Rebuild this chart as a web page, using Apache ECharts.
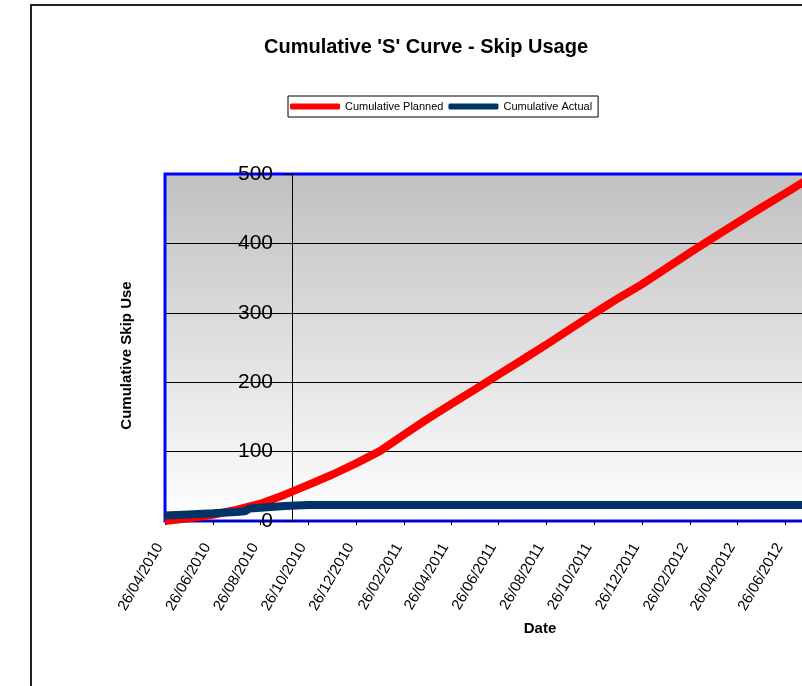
<!DOCTYPE html>
<html>
<head>
<meta charset="utf-8">
<script src="https://cdn.jsdelivr.net/npm/echarts@6/dist/echarts.min.js"></script>
<style>
  html, body { margin: 0; padding: 0; background: #fff; overflow: hidden; width: 802px; height: 686px; }
  /* the plot area runs past the right edge of the picture, so the chart is wider than the window */
  #main { width: 1000px; height: 686px; }
</style>
</head>
<body>
<div id="main"></div>
<script>
// tick labels on the date axis
var tickLabels = ['26/04/2010', '26/06/2010', '26/08/2010', '26/10/2010', '26/12/2010', '26/02/2011',
  '26/04/2011', '26/06/2011', '26/08/2011', '26/10/2011', '26/12/2011', '26/02/2012', '26/04/2012', '26/06/2012'];

// planned (red)
var plannedDates = ['26/04/2010', '26/05/2010', '26/06/2010', '26/07/2010', '26/08/2010', '26/09/2010',
  '26/10/2010', '26/11/2010', '26/12/2010', '26/01/2011', '26/02/2011', '26/03/2011', '26/04/2011',
  '26/05/2011', '26/06/2011', '26/07/2011', '26/08/2011', '26/09/2011', '26/10/2011', '26/11/2011',
  '26/12/2011', '26/01/2012', '26/02/2012', '26/03/2012', '26/04/2012', '26/05/2012', '26/06/2012', '26/07/2012'];
var plannedValues = [0, 4, 9, 16, 25, 38, 52, 67, 83, 101, 125, 146, 168, 189, 211, 232, 254, 277, 299, 321,
  341, 364, 387, 408, 430, 451, 472, 493];

// actual (dark blue)
var actualDates = ['26/04/2010', '26/05/2010', '26/06/2010', '26/07/2010', '06/08/2010', '12/08/2010',
  '26/08/2010', '26/09/2010', '26/10/2010', '26/07/2012'];
var actualValues = [8, 9.5, 11, 13, 14, 18, 19, 21.5, 23, 23];

var axisMin = '26/04/2010';
var axisMax = '09/12/2012';

function toTime(s) {
  var p = s.split('/');
  return Date.UTC(+p[2], +p[1] - 1, +p[0]);
}
function pad(n) { return n < 10 ? '0' + n : '' + n; }
function fmt(v) {
  var d = new Date(v);
  return pad(d.getUTCDate()) + '/' + pad(d.getUTCMonth() + 1) + '/' + d.getUTCFullYear();
}
function pairs(dates, vals) {
  return dates.map(function (d, i) { return [toTime(d), vals[i]]; });
}

var tickTimes = tickLabels.map(toTime);
var font = 'Liberation Sans, Arial, sans-serif';

var chart = echarts.init(document.getElementById('main'));
var option = {
  animation: false,
  textStyle: { fontFamily: font },
  graphic: [{
    type: 'rect',
    silent: true,
    z: -10,
    shape: { x: 31, y: 5, width: 1000, height: 1000 },
    style: { fill: 'none', stroke: '#222', lineWidth: 2 }
  }],
  title: {
    text: "Cumulative 'S' Curve - Skip Usage",
    left: 264,
    top: 37,
    padding: 0,
    textStyle: { fontSize: 20, fontWeight: 'bold', color: '#000', fontFamily: font }
  },
  legend: {
    left: 288,
    top: 96,
    padding: [5, 6, 5, 2],
    itemGap: 5,
    itemWidth: 50,
    itemHeight: 6,
    icon: 'roundRect',
    borderColor: '#000',
    borderWidth: 1,
    textStyle: { fontSize: 11, color: '#000', fontFamily: font },
    data: ['Cumulative Planned', 'Cumulative Actual']
  },
  grid: {
    left: 165,
    top: 174,
    right: 85,
    bottom: 165,
    show: true,
    borderColor: '#0000ff',
    borderWidth: 3,
    backgroundColor: new echarts.graphic.LinearGradient(0, 0, 0, 1, [
      { offset: 0, color: '#c0c0c0' },
      { offset: 1, color: '#ffffff' }
    ])
  },
  xAxis: {
    type: 'value',
    min: toTime(axisMin),
    max: toTime(axisMax),
    name: 'Date',
    nameLocation: 'middle',
    nameGap: 100,
    nameTextStyle: { fontSize: 15, fontWeight: 'bold', color: '#000', fontFamily: font },
    axisLine: { show: true, onZero: false, lineStyle: { color: '#000080', width: 1 } },
    axisTick: { show: true, customValues: tickTimes, length: 4, lineStyle: { color: '#000' } },
    axisLabel: {
      customValues: tickTimes, rotate: 60, margin: 14, padding: [0, 11, 0, 0],
      fontSize: 15, color: '#000', formatter: fmt
    },
    splitLine: { show: false }
  },
  yAxis: {
    type: 'value',
    min: 0,
    max: 500,
    interval: 100,
    offset: -127,
    name: 'Cumulative Skip Use',
    nameLocation: 'middle',
    nameRotate: 90,
    nameGap: 158,
    nameTextStyle: { fontSize: 15, fontWeight: 'bold', color: '#000', fontFamily: font, padding: [0, 16, 0, 0] },
    axisLine: { show: true, onZero: false, lineStyle: { color: '#000', width: 1 } },
    axisTick: { show: true, length: 8, lineStyle: { color: '#000' } },
    axisLabel: { fontSize: 21, color: '#000', margin: 19 },
    splitLine: { show: true, showMinLine: false, showMaxLine: false, lineStyle: { color: '#000', width: 1 } }
  },
  series: [
    {
      name: 'Cumulative Planned',
      type: 'line',
      symbol: 'none',
      color: '#ff0000',
      lineStyle: { width: 8, color: '#ff0000' },
      data: pairs(plannedDates, plannedValues)
    },
    {
      name: 'Cumulative Actual',
      type: 'line',
      symbol: 'none',
      color: '#003366',
      lineStyle: { width: 8, color: '#003366' },
      data: pairs(actualDates, actualValues)
    }
  ]
};
chart.setOption(option);
</script>
</body>
</html>
